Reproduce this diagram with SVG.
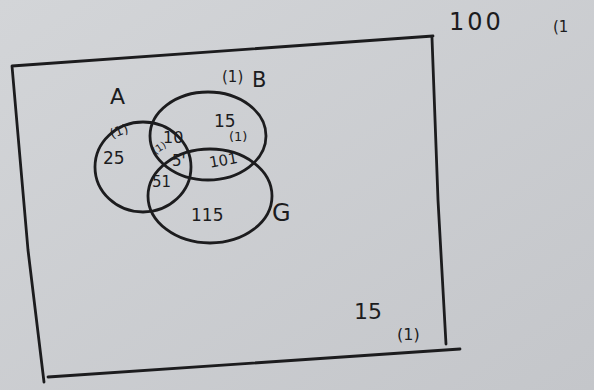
<svg xmlns="http://www.w3.org/2000/svg" width="594" height="390" viewBox="0 0 594 390">
<style>
.ink{fill:none;stroke:#1c1c1e;stroke-width:2.8;stroke-linecap:round;stroke-linejoin:round}
.t{font-family:"DejaVu Sans",sans-serif;fill:#1c1c1e}
</style>
<defs>
<linearGradient id="bg" x1="0" y1="0" x2="1" y2="1">
<stop offset="0" stop-color="#d3d5d8"/>
<stop offset="1" stop-color="#c4c6ca"/>
</linearGradient>
</defs>
<rect width="594" height="390" fill="url(#bg)"/>
<g id="frame">
<path class="ink" d="M12 66 L433 36 M432 38 L438 200 L446 344 M12 66 L28 250 L44 382 M48 377 L460 349"/>
</g>
<g id="A">
<ellipse class="ink" cx="143" cy="167" rx="48" ry="45"/>
<text class="t" x="110" y="104" font-size="22">A</text>
<text class="t" x="110" y="136" font-size="13" transform="rotate(-20 118 132)">(1)</text>
<text class="t" x="103" y="164" font-size="17">25</text>
</g>
<g id="B">
<ellipse class="ink" cx="208" cy="136" rx="58" ry="44"/>
<text class="t" x="222" y="82" font-size="15">(1)</text>
<text class="t" x="252" y="87" font-size="21">B</text>
<text class="t" x="214" y="127" font-size="17">15</text>
<text class="t" x="229" y="141" font-size="13">(1)</text>
</g>
<g id="G">
<ellipse class="ink" cx="210" cy="196" rx="62" ry="47"/>
<text class="t" x="272" y="221" font-size="24">G</text>
<text class="t" x="191" y="221" font-size="17">115</text>
</g>
<g id="regions">
<text class="t" x="152" y="152" font-size="10" transform="rotate(-35 158 148)">(1)</text>
<text class="t" x="163" y="143" font-size="16">10</text>
<text class="t" x="172" y="166" font-size="15">5'</text>
<text class="t" x="209" y="166" font-size="15" transform="rotate(-10 220 160)">101</text>
<text class="t" x="152" y="187" font-size="15">51</text>
</g>
<g id="labels">
<text class="t" x="449" y="30" font-size="24" letter-spacing="3">100</text>
<text class="t" x="553" y="32" font-size="15">(1</text>
<text class="t" x="354" y="319" font-size="22">15</text>
<text class="t" x="397" y="340" font-size="16">(1)</text>
</g>
</svg>
